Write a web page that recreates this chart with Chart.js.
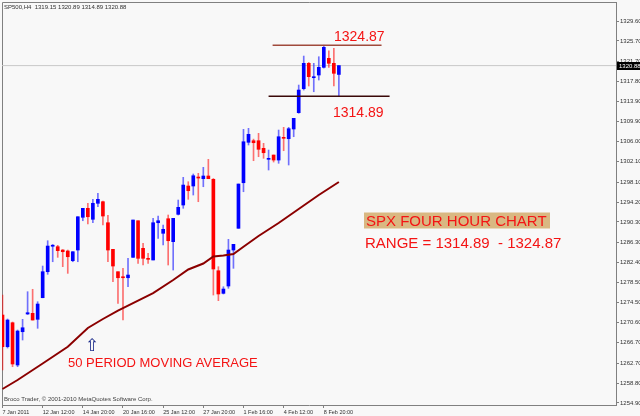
<!DOCTYPE html>
<html>
<head>
<meta charset="utf-8">
<script src="https://cdn.jsdelivr.net/npm/chart.js@4.4.0/dist/chart.umd.min.js"></script>
<style>
  html, body { margin: 0; padding: 0; background: #f8f8f8; }
  #chart { display: block; }
</style>
</head>
<body>
<canvas id="chart" width="640" height="416"></canvas>
<script>
// SP500 H4 bars, 7 Jan 2011 .. 9 Feb 2011
const barTimes = [
  "7 Jan 16:00", "7 Jan 20:00", "10 Jan 12:00", "10 Jan 16:00", "10 Jan 20:00",
  "11 Jan 12:00", "11 Jan 16:00", "11 Jan 20:00", "12 Jan 12:00", "12 Jan 16:00",
  "12 Jan 20:00", "13 Jan 12:00", "13 Jan 16:00", "13 Jan 20:00", "14 Jan 12:00",
  "14 Jan 16:00", "14 Jan 20:00", "18 Jan 12:00", "18 Jan 16:00", "18 Jan 20:00",
  "19 Jan 12:00", "19 Jan 16:00", "19 Jan 20:00", "20 Jan 12:00", "20 Jan 16:00",
  "20 Jan 20:00", "21 Jan 12:00", "21 Jan 16:00", "21 Jan 20:00", "24 Jan 12:00",
  "24 Jan 16:00", "24 Jan 20:00", "25 Jan 12:00", "25 Jan 16:00", "25 Jan 20:00",
  "26 Jan 12:00", "26 Jan 16:00", "26 Jan 20:00", "27 Jan 12:00", "27 Jan 16:00",
  "27 Jan 20:00", "28 Jan 12:00", "28 Jan 16:00", "28 Jan 20:00", "31 Jan 12:00",
  "31 Jan 16:00", "31 Jan 20:00", "1 Feb 12:00", "1 Feb 16:00", "1 Feb 20:00",
  "2 Feb 12:00", "2 Feb 16:00", "2 Feb 20:00", "3 Feb 12:00", "3 Feb 16:00",
  "3 Feb 20:00", "4 Feb 12:00", "4 Feb 16:00", "4 Feb 20:00", "7 Feb 12:00",
  "7 Feb 16:00", "7 Feb 20:00", "8 Feb 12:00", "8 Feb 16:00", "8 Feb 20:00",
  "9 Feb 12:00", "9 Feb 16:00", "9 Feb 20:00"
];

const opens = [
  1272.10, 1265.90, 1270.59, 1262.32, 1268.83, 1272.30, 1272.43, 1271.26, 1275.48, 1280.57,
  1285.55, 1285.46, 1284.81, 1284.62, 1282.72, 1284.81, 1291.21, 1292.97, 1290.82, 1293.95,
  1294.26, 1290.15, 1284.95, 1280.57, 1279.53, 1279.39, 1283.38, 1290.54, 1285.14, 1283.11,
  1282.86, 1290.15, 1288.08, 1290.93, 1286.44, 1291.79, 1293.61, 1297.33, 1297.33, 1299.09,
  1298.76, 1299.29, 1298.64, 1280.76, 1276.34, 1277.77, 1284.81, 1289.06, 1297.97, 1305.88,
  1306.19, 1306.19, 1304.70, 1302.55, 1303.39, 1302.41, 1306.85, 1306.58, 1308.48, 1311.67,
  1316.36, 1321.33, 1318.51, 1319.04, 1320.54, 1322.30, 1321.33, 1319.15
];
const highs = [
  1276.01, 1271.32, 1270.73, 1269.17, 1271.26, 1276.66, 1277.13, 1274.70, 1281.68, 1286.63,
  1285.90, 1285.73, 1284.90, 1284.81, 1284.48, 1291.32, 1292.97, 1293.95, 1294.73, 1295.90,
  1294.40, 1291.60, 1284.95, 1280.57, 1281.23, 1283.19, 1290.68, 1290.54, 1286.12, 1284.17,
  1291.01, 1291.46, 1289.70, 1291.66, 1291.01, 1294.59, 1299.03, 1298.17, 1299.68, 1299.81,
  1300.99, 1302.55, 1298.80, 1281.55, 1277.63, 1286.90, 1285.93, 1297.72, 1308.42, 1308.61,
  1306.50, 1307.64, 1305.68, 1304.37, 1303.39, 1308.28, 1308.81, 1308.81, 1310.57, 1317.08,
  1322.75, 1321.50, 1321.33, 1322.62, 1324.87, 1323.79, 1324.26, 1320.89
];
const lows = [
  1261.34, 1265.64, 1261.99, 1261.99, 1267.21, 1272.20, 1271.12, 1269.50, 1275.48, 1280.06,
  1282.52, 1283.38, 1281.55, 1280.25, 1282.52, 1282.52, 1290.54, 1289.90, 1290.15, 1293.28,
  1289.70, 1282.52, 1278.61, 1274.39, 1271.12, 1277.63, 1283.38, 1282.21, 1281.88, 1282.21,
  1282.86, 1287.10, 1285.79, 1281.88, 1280.90, 1291.66, 1292.97, 1294.73, 1295.57, 1294.26,
  1297.19, 1298.76, 1276.01, 1274.90, 1276.21, 1277.32, 1281.23, 1289.06, 1296.21, 1305.35,
  1302.28, 1303.06, 1302.75, 1300.46, 1302.02, 1301.77, 1304.23, 1301.44, 1306.97, 1311.55,
  1316.10, 1316.89, 1315.77, 1318.06, 1320.40, 1320.54, 1316.89, 1314.89
];
const closes = [
  1265.90, 1271.12, 1262.52, 1268.97, 1269.61, 1272.55, 1271.12, 1274.25, 1280.57, 1285.59,
  1285.75, 1284.68, 1284.48, 1283.50, 1284.48, 1291.32, 1292.97, 1291.32, 1293.95, 1294.73,
  1291.46, 1284.81, 1281.68, 1279.39, 1279.39, 1279.92, 1290.68, 1283.19, 1283.19, 1282.99,
  1290.15, 1290.54, 1288.86, 1286.63, 1291.01, 1293.16, 1297.52, 1296.41, 1299.34, 1298.89,
  1299.29, 1298.76, 1281.10, 1276.21, 1277.18, 1284.81, 1285.93, 1297.72, 1305.99, 1307.44,
  1305.80, 1304.51, 1303.84, 1302.75, 1302.41, 1306.97, 1306.66, 1308.54, 1310.57, 1316.10,
  1321.33, 1318.71, 1318.71, 1320.54, 1324.46, 1321.33, 1319.37, 1320.88
];

// 50 period moving average, read at some of the bars
const maBars = [0, 3, 8, 13, 17, 20, 23, 28, 30, 34, 37, 40, 42, 44, 46, 48, 51, 55, 59, 63, 67];
const maValues = [
  1257.63, 1259.39, 1262.61, 1265.90, 1269.56, 1271.32, 1272.98, 1275.42, 1276.40, 1278.94,
  1281.00, 1282.17, 1283.54, 1283.74, 1284.03, 1285.46, 1287.55, 1290.09, 1292.83, 1295.57, 1298.11
];

const xTickBars = [0, 8, 16, 24, 32, 40, 48, 56, 64];
const xTickLabels = [
  "7 Jan 2011", "12 Jan 12:00", "14 Jan 20:00", "20 Jan 16:00", "25 Jan 12:00",
  "27 Jan 20:00", "1 Feb 16:00", "4 Feb 12:00", "8 Feb 20:00"
];
const yTickValues = [
  1329.60, 1325.70, 1321.70, 1317.80, 1313.90, 1309.90, 1306.00, 1302.10, 1298.10, 1294.20,
  1290.30, 1286.30, 1282.40, 1278.50, 1274.50, 1270.60, 1266.70, 1262.70, 1258.80, 1254.90
];

const rangeHigh = 1324.87;
const rangeLow = 1314.89;
const lastPrice = 1320.88;

const BULL = "#0000ff";
const BEAR = "#ff0000";
const TEXT_RED = "#f41414";
const SMALL_FONT = '"Liberation Sans", Arial, sans-serif';

function candleColor(i, alpha) {
  const up = closes[i] >= opens[i];
  if (alpha) return up ? "rgba(0,0,255," + alpha + ")" : "rgba(255,0,0," + alpha + ")";
  return up ? BULL : BEAR;
}

const overlayPlugin = {
  id: "mt4-overlay",
  beforeDatasetsDraw(chart) {
    const { ctx, chartArea } = chart;
    ctx.save();
    ctx.strokeStyle = "#808080";
    ctx.lineWidth = 1;
    ctx.beginPath();
    ctx.moveTo(chartArea.left + 0.5, chartArea.bottom);
    ctx.lineTo(chartArea.left + 0.5, chartArea.top + 0.5);
    ctx.lineTo(chartArea.right, chartArea.top + 0.5);
    ctx.stroke();
    ctx.restore();
  },
  afterDraw(chart) {
    const { ctx, scales } = chart;
    const y = scales.y;
    ctx.save();

    // header + copyright
    ctx.fillStyle = "#303030";
    ctx.font = "6px " + SMALL_FONT;
    ctx.textBaseline = "middle";
    ctx.fillText("SP500,H4  1319.15 1320.89 1314.89 1320.88", 4, 7);
    ctx.fillStyle = "#404040";
    ctx.fillText("Broco Trader, \u00a9 2001-2010 MetaQuotes Software Corp.", 4, 399);

    // last price tag on the axis
    const py = Math.round(y.getPixelForValue(lastPrice));
    ctx.fillStyle = "#000000";
    ctx.fillRect(617, py - 4, 23, 8);
    ctx.fillStyle = "#ffffff";
    ctx.fillText(lastPrice.toFixed(2), 619, py);

    // range labels
    ctx.textBaseline = "alphabetic";
    ctx.font = "14px " + SMALL_FONT;
    ctx.fillStyle = TEXT_RED;
    ctx.fillText(rangeHigh.toFixed(2), 334, y.getPixelForValue(rangeHigh) - 4);
    ctx.fillText(rangeLow.toFixed(2), 333, y.getPixelForValue(rangeLow) + 21);

    // title box
    ctx.fillStyle = "#d9b882";
    ctx.fillRect(364, 212.5, 186, 16);
    ctx.font = "15px " + SMALL_FONT;
    ctx.fillStyle = TEXT_RED;
    ctx.fillText("SPX FOUR HOUR CHART", 366, 226);
    ctx.fillText("RANGE = " + rangeLow.toFixed(2) + "  - " + rangeHigh.toFixed(2), 365, 248);

    // moving average note
    ctx.font = "13px " + SMALL_FONT;
    ctx.fillText("50 PERIOD MOVING AVERAGE", 68, 367);
    ctx.font = "17px \"DejaVu Sans\"";
    ctx.fillStyle = "#1a2a8a";
    ctx.fillText("\u21e7", 85, 351);

    ctx.restore();
  },
};

function main() {
  const ctx = document.getElementById("chart").getContext("2d");

  const wickData = barTimes.map((t, i) => ({ x: i, y: [lows[i], highs[i]] }));
  const bodyData = barTimes.map((t, i) => ({ x: i, y: [opens[i], closes[i]] }));
  const maData = maBars.map((b, k) => ({ x: b, y: maValues[k] }));

  new Chart(ctx, {
    type: "bar",
    data: {
      datasets: [
        {
          type: "line",
          label: "last",
          data: [{ x: -0.1, y: lastPrice }, { x: 122.2, y: lastPrice }],
          borderColor: "#c8c8c8",
          borderWidth: 1,
          pointRadius: 0,
          order: 6,
        },
        {
          label: "wicks",
          data: wickData,
          backgroundColor: barTimes.map((t, i) => candleColor(i, 0.55)),
          barThickness: 1,
          grouped: false,
          order: 4,
        },
        {
          label: "bodies",
          data: bodyData,
          backgroundColor: barTimes.map((t, i) => candleColor(i)),
          barThickness: 3,
          minBarLength: 1,
          grouped: false,
          order: 3,
        },
        {
          type: "line",
          label: "MA 50",
          data: maData,
          borderColor: "#8b0000",
          borderWidth: 2,
          pointRadius: 0,
          tension: 0,
          order: 2,
        },
        {
          type: "line",
          label: "range high",
          data: [{ x: 53.8, y: rangeHigh }, { x: 75.5, y: rangeHigh }],
          borderColor: "#a04a3c",
          borderWidth: 1.5,
          pointRadius: 0,
          order: 1,
        },
        {
          type: "line",
          label: "range low",
          data: [{ x: 53.0, y: rangeLow }, { x: 77.1, y: rangeLow }],
          borderColor: "#3a0808",
          borderWidth: 1.5,
          pointRadius: 0,
          order: 1,
        },
      ],
    },
    options: {
      responsive: false,
      animation: false,
      layout: { padding: { left: 2, top: 2, right: 0, bottom: 0 } },
      plugins: {
        legend: { display: false },
        tooltip: { enabled: false },
      },
      scales: {
        x: {
          type: "linear",
          position: "bottom",
          offset: false,
          min: -0.1,
          max: 122.2,
          afterBuildTicks: (scale) => {
            scale.ticks = xTickBars.map((v) => ({ value: v }));
          },
          afterFit: (scale) => {
            scale.height = 11;
            scale.paddingLeft = 0;
            scale.paddingRight = 0;
          },
          ticks: {
            callback: (v, i) => xTickLabels[i],
            autoSkip: false,
            maxRotation: 0,
            minRotation: 0,
            align: "start",
            padding: 1,
            color: "#303030",
            font: { family: SMALL_FONT, size: 5.5 },
          },
          grid: { offset: false, drawOnChartArea: false, tickLength: 3, color: "#808080" },
          border: { color: "#808080" },
        },
        y: {
          type: "linear",
          position: "right",
          min: 1254.5,
          max: 1333.32,
          afterBuildTicks: (scale) => {
            scale.ticks = yTickValues.map((v) => ({ value: v }));
          },
          afterFit: (scale) => {
            scale.width = 24;
            scale.paddingTop = 0;
            scale.paddingBottom = 0;
          },
          ticks: {
            callback: (v) => Number(v).toFixed(2),
            padding: 1,
            color: "#303030",
            font: { family: SMALL_FONT, size: 6 },
          },
          grid: { drawOnChartArea: false, tickLength: 3, color: "#808080" },
          border: { color: "#808080" },
        },
      },
    },
    plugins: [overlayPlugin],
  });
}

main();
</script>
</body>
</html>
